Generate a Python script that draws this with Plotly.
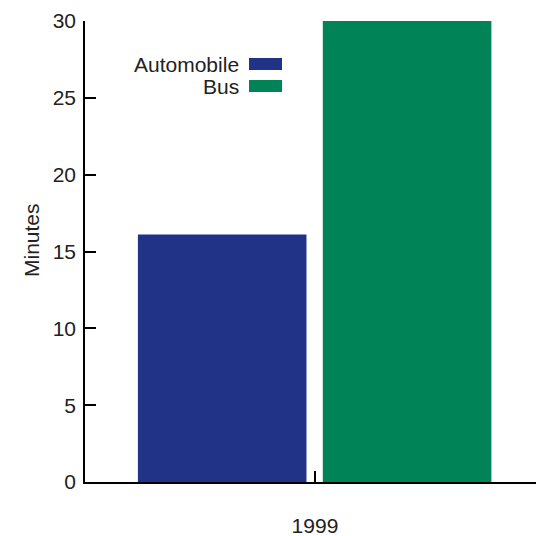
import plotly.graph_objects as go

categories = ["1999"]
series_names = ["Automobile", "Bus"]
automobile = [16.1]
bus = [30.1]
y_ticks = [0, 5, 10, 15, 20, 25, 30]

colors = ["#213387", "#008457"]
W, H = 536, 536
L, R, T, B = 85, 0, 21, 54
FONT = "Liberation Sans, Arial, sans-serif"
TXT = "#222222"
FS = 21

def px_x(p):
    return (p - L) / (W - L - R)

def px_y(p):
    return (H - B - p) / (H - T - B)

fig = go.Figure()
fig.add_trace(go.Bar(x=categories, y=automobile, name=series_names[0],
                     marker=dict(color=colors[0], line=dict(width=0)),
                     width=0.733, offset=-0.770, cliponaxis=False))
fig.add_trace(go.Bar(x=categories, y=bus, name=series_names[1],
                     marker=dict(color=colors[1], line=dict(width=0)),
                     width=0.733, offset=0.034, cliponaxis=False))

# legend (text left of swatch)
legend_y = [64, 86]
for name, c, yc in zip(series_names, colors, legend_y):
    fig.add_annotation(x=px_x(241), y=px_y(yc), xref="paper", yref="paper",
                       text=name, showarrow=False, xanchor="right", yanchor="middle",
                       font=dict(family=FONT, size=FS, color=TXT))
    fig.add_shape(type="rect", xref="paper", yref="paper",
                  x0=px_x(249), x1=px_x(282), y0=px_y(yc + 6), y1=px_y(yc - 6),
                  fillcolor=c, line=dict(width=0))

fig.add_annotation(x=px_x(31), y=px_y(240), xref="paper", yref="paper",
                   text="Minutes", showarrow=False, textangle=-90,
                   xanchor="center", yanchor="middle",
                   font=dict(family=FONT, size=FS, color=TXT))

fig.update_layout(
    width=W, height=H,
    margin=dict(l=L, r=R, t=T, b=B, autoexpand=False),
    paper_bgcolor="white", plot_bgcolor="white",
    barmode="overlay", showlegend=False,
    font=dict(family=FONT, size=FS, color=TXT),
)
fig.update_xaxes(type="category", range=[-1, 0.961], showgrid=False,
                 showline=True, linecolor="black", linewidth=1.5,
                 ticks="inside", ticklen=11, tickcolor="black", tickwidth=1.5,
                 ticklabelstandoff=24, tickfont=dict(family=FONT, size=FS, color=TXT),
                 fixedrange=True)
fig.update_yaxes(range=[0, 30], tickvals=y_ticks, showgrid=False, zeroline=False,
                 showline=True, linecolor="black", linewidth=1.5,
                 ticks="inside", ticklen=11, tickcolor="black", tickwidth=1.5,
                 ticklabelstandoff=3, tickfont=dict(family=FONT, size=FS, color=TXT),
                 fixedrange=True)

fig.write_html("out.html", config={"displayModeBar": False},
               post_script="document.body.style.margin='0';document.body.style.overflow='hidden';")
